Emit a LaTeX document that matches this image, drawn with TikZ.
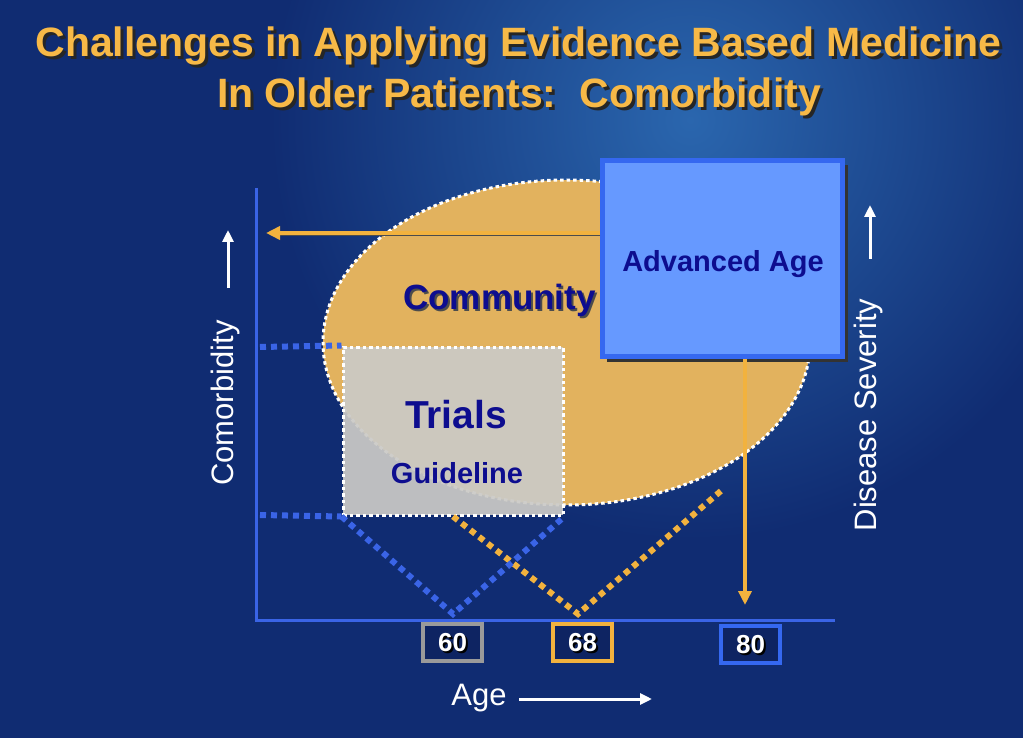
\documentclass[tikz,border=0pt]{standalone}
\usepackage{fontspec}
\setmainfont{Liberation Sans}
\usetikzlibrary{arrows.meta,shapes.geometric}
\definecolor{bgbase}{HTML}{102C72}
\definecolor{bglight}{HTML}{2A66AE}
\definecolor{titleor}{HTML}{F7B947}
\definecolor{axisblue}{HTML}{3A64E6}
\definecolor{arrowor}{HTML}{F2B23E}
\definecolor{ellfill}{HTML}{E2B25E}
\definecolor{trialgray}{HTML}{CBCAC6}
\definecolor{advfill}{HTML}{6699FF}
\definecolor{advborder}{HTML}{3568F0}
\definecolor{navy}{HTML}{0D0D8F}
\definecolor{boxbg}{HTML}{0E2462}
\definecolor{numgray}{HTML}{9A9A9A}
\newcommand\shtxt[3]{\leavevmode\rlap{\hspace{#3}\raisebox{-#3}{\textcolor{#2}{#1}}}#1}
\begin{document}
\begin{tikzpicture}[x=1pt,y=-1pt,
  axisline/.style={draw=axisblue,line width=3pt},
  bluedot/.style={draw=axisblue,line width=6pt,dash pattern=on 6pt off 5pt},
  ordot/.style={draw=arrowor,line width=6pt,dash pattern=on 6pt off 5pt},
  orarrow/.style={draw=arrowor,line width=4pt,-{Triangle[length=14pt,width=13pt]}},
  whitearrow/.style={draw=white,line width=3pt,-{Triangle[length=12pt,width=11pt]}},
  numbox/.style={draw,line width=4pt,fill=boxbg,minimum width=59pt,minimum height=37pt,inner sep=0pt},
  numtext/.style={text=white,font=\fontsize{26}{30}\selectfont\bfseries,anchor=base},
  navytext/.style={text=navy,font=\bfseries,anchor=base},
  axislabel/.style={text=white,font=\fontsize{31}{36}\selectfont,anchor=base,inner sep=0pt},
  titletext/.style={text=titleor,font=\fontsize{41}{48}\selectfont\bfseries,anchor=base,inner sep=0pt}
]
\useasboundingbox (0,0) rectangle (1023,738);
% background
\fill[bgbase] (0,0) rectangle (1023,738);
\begin{scope}
\clip (0,0) rectangle (1023,738);
\shade[inner color=bglight,outer color=bgbase] (690,120) circle (420);
\end{scope}

% title
\node[titletext] (title1) at (518.5,57) {\shtxt{Challenges in Applying Evidence Based Medicine}{black!85}{3pt}};
\node[titletext] (title2) at (519,108) {\shtxt{In Older Patients:\ \ Comorbidity}{black!85}{3pt}};

% community ellipse
\node[ellipse,fill=ellfill,draw=white,line width=3pt,dash pattern=on 3.5pt off 3pt,minimum width=487pt,minimum height=325pt,inner sep=0pt] (comm) at (566.5,342.5) {};

% trials box
\node[fill=trialgray,fill opacity=0.93,draw=white,line width=3pt,dash pattern=on 3.5pt off 3pt,minimum width=220pt,minimum height=168pt,inner sep=0pt] (trials) at (453,431) {};

% axes
\coordinate (ytop) at (256,188);
\coordinate (origin) at (256,620);
\coordinate (xend) at (835,620);
\draw[axisline] (ytop) -- (origin) -- (xend);

% dotted guides
\coordinate (yup) at (260,347);
\coordinate (ylow) at (260,515);
\coordinate (vb) at (453,614);
\coordinate (vo) at (578,614);
\coordinate (oend) at (722,490);
\draw[bluedot] (yup) -- (trials.north west);
\draw[bluedot] (ylow) -- (trials.south west);
\draw[ordot] (trials.south) -- (vo) -- (oend);
\draw[bluedot] (trials.south west) -- (vb) -- (trials.south east);

% advanced age box
\fill[black!80] (607,165) rectangle (848,362);
\node[fill=advfill,draw=advborder,line width=5pt,minimum width=240pt,minimum height=196pt,inner sep=0pt] (adv) at (722.5,258.5) {};

% arrows from advanced age
\coordinate (arrowL) at (266,233);
\coordinate (arrowD) at (745,605);
\draw[black!70,line width=1.5pt] ([yshift=-2.5pt]adv.west |- arrowL) -- ([yshift=-2.5pt,xshift=12pt]arrowL);
\draw[orarrow] (adv.west |- arrowL) -- (arrowL);
\draw[orarrow] (adv.south -| arrowD) -- (arrowD);

% texts inside
\node[navytext,font=\fontsize{35}{40}\selectfont\bfseries] (community) at (499.5,309) {\shtxt{Community}{black!70}{2pt}};
\node[navytext,font=\fontsize{39}{44}\selectfont\bfseries] (trialsT) at (456,428) {Trials};
\node[navytext,font=\fontsize{29}{34}\selectfont\bfseries] (guide) at (457,483) {Guideline};
\node[navytext,font=\fontsize{29}{34}\selectfont\bfseries] (advT) at (723,272) {Advanced Age};

% number boxes
\node[numbox,draw=numgray] (n60) at (452.5,642.5) {};
\node[numbox,draw=arrowor] (n68) at (582.5,642) {};
\node[numbox,draw=advborder] (n80) at (750.5,644) {};
\node[numtext] (t60) at (n60.center) [yshift=-9pt] {\shtxt{60}{black}{2pt}};
\node[numtext] (t68) at (n68.center) [yshift=-9pt] {\shtxt{68}{black}{2pt}};
\node[numtext] (t80) at (n80.center) [yshift=-9pt] {\shtxt{80}{black}{2pt}};

% axis labels
\node[axislabel,rotate=90] (comorb) at (233,403) {Comorbidity};
\coordinate (ca1) at (228,288);
\coordinate (ca2) at (228,230);
\draw[whitearrow] (ca1) -- (ca2);
\node[axislabel,rotate=90] (sev) at (876,415) {Disease Severity};
\coordinate (sa1) at (870,259);
\coordinate (sa2) at (870,205);
\draw[whitearrow] (sa1) -- (sa2);
\node[axislabel] (age) at (479,705) {Age};
\coordinate (aa1) at (519,699);
\coordinate (aa2) at (652,699);
\draw[whitearrow] (aa1) -- (aa2);
\end{tikzpicture}
\end{document}
